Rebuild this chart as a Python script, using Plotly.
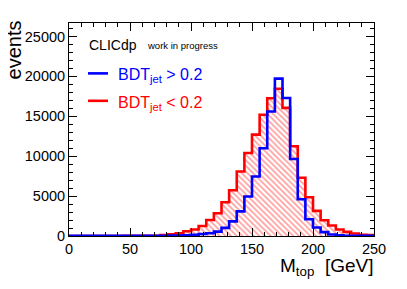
import plotly.graph_objects as go

# 40 bins of 6.25 GeV between 0 and 250 GeV
bin_edges = [0, 6.25, 12.5, 18.75, 25, 31.25, 37.5, 43.75, 50, 56.25, 62.5, 68.75,
             75, 81.25, 87.5, 93.75, 100, 106.25, 112.5, 118.75, 125, 131.25, 137.5,
             143.75, 150, 156.25, 162.5, 168.75, 175, 181.25, 187.5, 193.75, 200,
             206.25, 212.5, 218.75, 225, 231.25, 237.5, 243.75, 250]

red_counts = [5, 5, 5, 5, 5, 8, 8, 10, 12, 15, 20, 40,
              110, 200, 330, 600, 820, 1250, 2000, 2850, 4230, 5730, 8080,
              10400, 12700, 15200, 17270, 18450, 16050, 11250, 7300, 4850, 3150,
              1980, 1310, 810, 520, 310, 160, 120]

blue_counts = [10, 10, 10, 10, 12, 12, 15, 15, 20, 20, 25, 30,
               40, 50, 70, 100, 150, 250, 350, 550, 1020, 1830, 3080,
               4950, 7450, 11000, 15600, 19720, 17300, 9650, 4600, 2100, 1060,
               480, 190, 80, 40, 30, 20, 10]

x_ticks = [0, 50, 100, 150, 200, 250]
y_ticks = [0, 5000, 10000, 15000, 20000, 25000]

FONT = "Liberation Sans, Arial, sans-serif"

fig = go.Figure()

fig.add_trace(go.Scatter(
    x=bin_edges, y=red_counts + [red_counts[-1]],
    mode="lines", line=dict(color="#ff0000", width=2.6, shape="hv"),
    fill="tozeroy", fillcolor="rgba(0,0,0,0)",
    fillpattern=dict(shape="\\", fgcolor="rgba(255,0,0,0.8)", bgcolor="white",
                     size=4, solidity=0.38),
    showlegend=False, hoverinfo="skip"))

fig.add_trace(go.Scatter(
    x=bin_edges, y=blue_counts + [blue_counts[-1]],
    mode="lines", line=dict(color="#0000ff", width=2.6, shape="hv"),
    showlegend=False, hoverinfo="skip"))

axis_common = dict(
    showgrid=False, zeroline=False, showline=True, linecolor="black", linewidth=1,
    mirror="ticks", ticks="inside", ticklen=8, tickcolor="black", tickwidth=1,
    tickfont=dict(family=FONT, size=14.5, color="black"),
)

fig.update_xaxes(range=[0, 250], tickvals=x_ticks, ticktext=[str(v) for v in x_ticks],
                 minor=dict(ticks="inside", ticklen=4, dtick=10, tickcolor="black"),
                 **axis_common)
fig.update_yaxes(range=[0, 26690], tickvals=y_ticks, ticktext=[str(v) for v in y_ticks],
                 minor=dict(ticks="inside", ticklen=4, dtick=1000, tickcolor="black"),
                 **axis_common)

# page body has an 8px margin: compensate so the plot lands where the reference has it
OFF = 8
W, H = 407 - OFF, 289 - OFF
L, R, T, B = 69 - OFF, 33, 23 - OFF, 52.5
pw, ph = W - L - R, H - T - B


def px(xs):
    return (xs - OFF - L) / pw


def py(ys):
    return (H - B - (ys - OFF)) / ph


annotations = [
    dict(text="events", x=px(13.5), y=py(50), textangle=-90, xanchor="center", yanchor="middle",
         font=dict(family=FONT, size=20, color="black")),
    dict(text="M<sub>top</sub>  [GeV]", x=px(375), y=py(268), xanchor="right", yanchor="middle",
         font=dict(family=FONT, size=19, color="black")),
    dict(text="CLICdp", x=px(87), y=py(45), xanchor="left", yanchor="middle",
         font=dict(family=FONT, size=14, color="black")),
    dict(text="work in progress", x=px(145), y=py(45.5), xanchor="left", yanchor="middle",
         font=dict(family=FONT, size=9.5, color="black")),
    dict(text="BDT<sub>jet</sub> > 0.2", x=px(116), y=py(76), xanchor="left", yanchor="middle",
         font=dict(family=FONT, size=16, color="#0000ff")),
    dict(text="BDT<sub>jet</sub> < 0.2", x=px(116), y=py(104), xanchor="left", yanchor="middle",
         font=dict(family=FONT, size=16, color="#ff0000")),
]
for a in annotations:
    a.update(xref="paper", yref="paper", showarrow=False)

shapes = [
    dict(type="line", xref="paper", yref="paper", x0=px(88), x1=px(108), y0=py(73.5), y1=py(73.5),
         line=dict(color="#0000ff", width=2.6)),
    dict(type="line", xref="paper", yref="paper", x0=px(88), x1=px(108), y0=py(101), y1=py(101),
         line=dict(color="#ff0000", width=2.6)),
]

fig.update_layout(
    width=W, height=H, margin=dict(l=L, r=R, t=T, b=B, pad=0),
    paper_bgcolor="white", plot_bgcolor="white",
    annotations=annotations, shapes=shapes, showlegend=False,
)

fig.write_html("out.html")
